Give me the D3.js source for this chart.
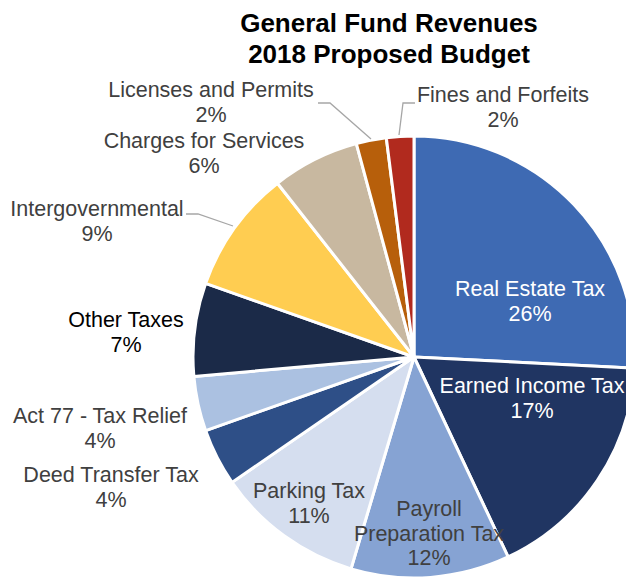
<!DOCTYPE html>
<html>
<head>
<meta charset="utf-8">
<script src="https://d3js.org/d3.v7.min.js"></script>
<style>
  body { margin: 0; background: #fff; }
  svg { display: block; font-family: "Liberation Sans", Arial, sans-serif; }
</style>
</head>
<body>
<div id="chart"></div>
<script>
// data (percent of general fund; labels show rounded values)
const categories = ['Real Estate Tax', 'Earned Income Tax', 'Payroll Preparation Tax', 'Parking Tax',
  'Deed Transfer Tax', 'Act 77 - Tax Relief', 'Other Taxes', 'Intergovernmental',
  'Charges for Services', 'Licenses and Permits', 'Fines and Forfeits'];
const values = [25.8, 17.2, 11.6, 10.8, 4.2, 4.0, 6.8, 9.0, 6.4, 2.2, 2.0];
const colors = ['#3E6AB3', '#203562', '#86A3D3', '#D5DEEF', '#2E4F87', '#ABC1E1',
  '#1B2A48', '#FFCD51', '#C8B8A0', '#B75F0B', '#B12A1E'];

// label layout: label lines, position of first baseline, text colour
const labelLayout = [
  { lines: ['Real Estate Tax'], x: 530, y: 296, fill: '#fff' },
  { lines: ['Earned Income Tax'], x: 532, y: 393, fill: '#fff' },
  { lines: ['Payroll', 'Preparation Tax'], x: 429, y: 516, fill: '#404040' },
  { lines: ['Parking Tax'], x: 309, y: 498, fill: '#404040' },
  { lines: ['Deed Transfer Tax'], x: 111, y: 482, fill: '#404040' },
  { lines: ['Act 77 - Tax Relief'], x: 100, y: 423, fill: '#404040' },
  { lines: ['Other Taxes'], x: 126, y: 327, fill: '#000' },
  { lines: ['Intergovernmental'], x: 97, y: 216, fill: '#404040' },
  { lines: ['Charges for Services'], x: 204, y: 148, fill: '#404040' },
  { lines: ['Licenses and Permits'], x: 211, y: 97, fill: '#404040' },
  { lines: ['Fines and Forfeits'], x: 503, y: 102, fill: '#404040' }
];
const leaders = [
  [[318, 103], [330, 103], [371, 139]],
  [[415, 103], [403, 103], [399, 135]],
  [[186, 214], [198, 214], [233, 226]]
];

const width = 626, height = 580;
const cx = 414, cy = 357, radius = 221;

const svg = d3.select('#chart').append('svg')
  .attr('width', width).attr('height', height);

svg.append('text')
  .attr('text-anchor', 'middle')
  .style('font-size', '26px').style('font-weight', 'bold').attr('fill', '#000')
  .selectAll('tspan')
  .data(['General Fund Revenues', '2018 Proposed Budget'])
  .join('tspan')
  .attr('x', 389).attr('y', (d, i) => 32 + i * 31)
  .text(d => d);

const pie = d3.pie().sort(null).value(d => d);
const arc = d3.arc().innerRadius(0).outerRadius(radius);

const g = svg.append('g').attr('transform', `translate(${cx},${cy})`);
g.selectAll('path')
  .data(pie(values))
  .join('path')
  .attr('d', arc)
  .attr('fill', (d, i) => colors[i])
  .attr('stroke', '#fff')
  .attr('stroke-width', 3)
  .attr('stroke-linejoin', 'round');

// leader lines
svg.selectAll('polyline')
  .data(leaders)
  .join('polyline')
  .attr('points', d => d.map(p => p.join(',')).join(' '))
  .attr('fill', 'none')
  .attr('stroke', '#A6A6A6')
  .attr('stroke-width', 1.3);

// labels
const lab = svg.append('g').style('font-size', '21.5px');
labelLayout.forEach((L, i) => {
  const t = lab.append('text').attr('text-anchor', 'middle').attr('fill', L.fill);
  const lines = L.lines.concat([Math.round(values[i]) + '%']);
  lines.forEach((s, j) => {
    t.append('tspan').attr('x', L.x).attr('y', L.y + j * 24.5).text(s);
  });
});
</script>
</body>
</html>
